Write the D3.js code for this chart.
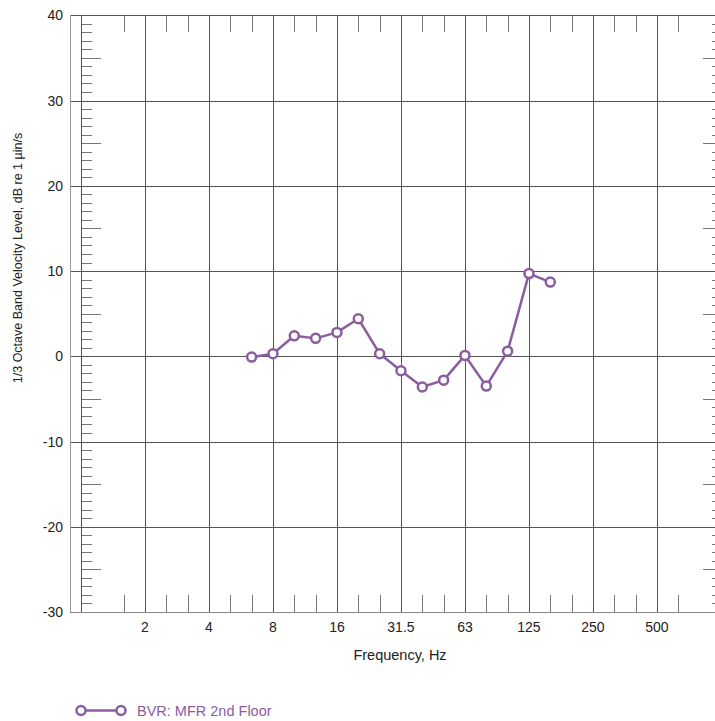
<!DOCTYPE html>
<html>
<head>
<meta charset="utf-8">
<script src="https://cdn.jsdelivr.net/npm/d3@7"></script>
<style>
  body { margin: 0; background: #fff; }
  svg { display: block; font-family: Arial, "Liberation Sans", sans-serif; }
</style>
</head>
<body>
<div id="chart"></div>
<script>
// 1/3 octave band centres (Hz) and measured levels (dB re 1 µin/s)
const bands = [6.3, 8, 10, 12.5, 16, 20, 25, 31.5, 40, 50, 63, 80, 100, 125, 160];
const levels = [-0.1, 0.3, 2.4, 2.1, 2.8, 4.4, 0.3, -1.7, -3.6, -2.8, 0.1, -3.5, 0.6, 9.7, 8.7];
const seriesName = 'BVR: MFR 2nd Floor';

// octave grid lines (exact powers of two) and their nominal labels
const octaves = [1, 2, 4, 8, 16, 32, 64, 128, 256, 512, 1024];
const octaveLabels = ['', '2', '4', '8', '16', '31.5', '63', '125', '250', '500', ''];
const yTicks = [-30, -20, -10, 0, 10, 20, 30, 40];

const width = 715;
const height = 721;
const color = '#8b5c9e';
const gridColor = '#555';

// snap a nominal band centre onto its exact third-octave position
const exact = f => 2 ** (Math.round(3 * Math.log2(f)) / 3);

const x = d3.scaleLog().base(2)
  .domain([2 ** (-1 / 6), 2 ** (10 + 1 / 6)])
  .range([70.3, 70.3 + 64 * (10 + 1 / 3)]);
const y = d3.scaleLinear().domain([-30, 40]).range([612, 15.3]);

const svg = d3.select('#chart').append('svg')
  .attr('width', width)
  .attr('height', height);

const [x0] = x.range();
const y0 = y(-30);
const y1 = y(40);

// third-octave minor ticks between the octave lines
const thirds = d3.range(2, 29).map(k => 2 ** (k / 3)).filter((f, i) => (i + 2) % 3 !== 0);

const grid = svg.append('g').attr('stroke', gridColor).attr('stroke-width', 1).attr('shape-rendering', 'crispEdges');

grid.selectAll('line.v')
  .data(octaves)
  .join('line')
  .attr('x1', d => Math.round(x(d)) + 0.5)
  .attr('x2', d => Math.round(x(d)) + 0.5)
  .attr('y1', y1)
  .attr('y2', y0);

grid.selectAll('line.h')
  .data(yTicks.filter(d => d > -30 && d < 40))
  .join('line')
  .attr('class', 'h')
  .attr('x1', x0)
  .attr('x2', width)
  .attr('y1', d => Math.round(y(d)) + 0.5)
  .attr('y2', d => Math.round(y(d)) + 0.5);

// short vertical ticks hanging from top and rising from bottom
const minor = svg.append('g').attr('stroke', '#777').attr('stroke-width', 1).attr('shape-rendering', 'crispEdges');
minor.selectAll('line.b')
  .data(thirds)
  .join('line')
  .attr('class', 'b')
  .attr('x1', d => Math.round(x(d)) + 0.5)
  .attr('x2', d => Math.round(x(d)) + 0.5)
  .attr('y1', y0)
  .attr('y2', y0 - 17);
minor.selectAll('line.t')
  .data(thirds)
  .join('line')
  .attr('class', 't')
  .attr('x1', d => Math.round(x(d)) + 0.5)
  .attr('x2', d => Math.round(x(d)) + 0.5)
  .attr('y1', y1)
  .attr('y2', y1 + 17);

// 1 dB ticks along the 1 Hz line (right) and 1 kHz line (left)
const dbTicks = d3.range(-29, 40).filter(d => d % 10 !== 0);
const tickLen = d => (d % 5 === 0 ? 19 : 10);
const xl = Math.round(x(1)) + 0.5;
const xr = Math.round(x(1024)) + 0.5;
minor.selectAll('line.l')
  .data(dbTicks)
  .join('line')
  .attr('class', 'l')
  .attr('x1', xl)
  .attr('x2', d => xl + tickLen(d))
  .attr('y1', d => Math.round(y(d)) + 0.5)
  .attr('y2', d => Math.round(y(d)) + 0.5);
minor.selectAll('line.r')
  .data(dbTicks)
  .join('line')
  .attr('class', 'r')
  .attr('x1', xr)
  .attr('x2', d => xr - tickLen(d))
  .attr('y1', d => Math.round(y(d)) + 0.5)
  .attr('y2', d => Math.round(y(d)) + 0.5);

// frame
const frame = svg.append('g').attr('shape-rendering', 'crispEdges').attr('stroke-width', 1);
frame.append('line').attr('stroke', '#555')
  .attr('x1', x0).attr('x2', width).attr('y1', Math.round(y1) + 0.5).attr('y2', Math.round(y1) + 0.5);
frame.append('line').attr('stroke', '#888')
  .attr('x1', x0).attr('x2', width).attr('y1', Math.round(y0) + 0.5).attr('y2', Math.round(y0) + 0.5);
frame.append('line').attr('stroke', '#999')
  .attr('x1', Math.round(x0) + 0.5).attr('x2', Math.round(x0) + 0.5).attr('y1', y1).attr('y2', y0);

// tick labels
svg.append('g')
  .attr('font-size', 14)
  .attr('fill', '#222')
  .attr('text-anchor', 'end')
  .selectAll('text')
  .data(yTicks)
  .join('text')
  .attr('x', 63)
  .attr('y', d => y(d))
  .attr('dy', '0.36em')
  .text(d => d);

svg.append('g')
  .attr('font-size', 14)
  .attr('fill', '#222')
  .attr('text-anchor', 'middle')
  .selectAll('text')
  .data(octaves)
  .join('text')
  .attr('x', d => x(d))
  .attr('y', 632)
  .text((d, i) => octaveLabels[i]);

// axis titles
svg.append('text')
  .attr('x', 400)
  .attr('y', 660)
  .attr('font-size', 14.5)
  .attr('fill', '#222')
  .attr('text-anchor', 'middle')
  .text('Frequency, Hz');

svg.append('text')
  .attr('transform', 'translate(22,258) rotate(-90)')
  .attr('font-size', 12.5)
  .attr('fill', '#222')
  .attr('text-anchor', 'middle')
  .text('1/3 Octave Band Velocity Level, dB re 1 µin/s');

// data series
const pts = bands.map((f, i) => ({ f, v: levels[i] }));
const line = d3.line().x(d => x(exact(d.f))).y(d => y(d.v));

svg.append('path')
  .datum(pts)
  .attr('fill', 'none')
  .attr('stroke', color)
  .attr('stroke-width', 2.5)
  .attr('stroke-linejoin', 'round')
  .attr('d', line);

svg.append('g')
  .selectAll('circle')
  .data(pts)
  .join('circle')
  .attr('cx', d => x(exact(d.f)))
  .attr('cy', d => y(d.v))
  .attr('r', 4.5)
  .attr('fill', '#fff')
  .attr('stroke', color)
  .attr('stroke-width', 2.5);

// legend
const legend = svg.append('g').attr('transform', 'translate(0,710.5)');
legend.append('line')
  .attr('x1', 81).attr('x2', 121)
  .attr('stroke', color).attr('stroke-width', 2.5);
legend.selectAll('circle')
  .data([81, 121])
  .join('circle')
  .attr('cx', d => d)
  .attr('r', 4.5)
  .attr('fill', '#fff')
  .attr('stroke', color)
  .attr('stroke-width', 2.5);
legend.append('text')
  .attr('x', 137)
  .attr('dy', '0.36em')
  .attr('font-size', 14.5)
  .attr('fill', color)
  .text(seriesName);
</script>
</body>
</html>
